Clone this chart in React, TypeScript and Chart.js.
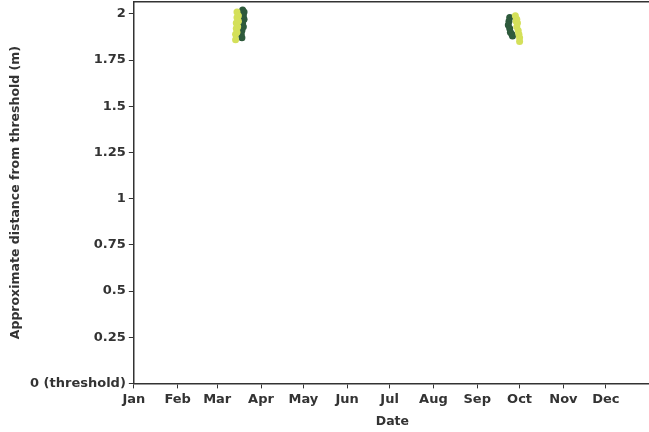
import React, { useEffect, useRef } from "react";
import { Chart, registerables } from "chart.js";

Chart.register(...registerables);

// Month start positions (day of year) and their labels
const monthStarts = [0, 31, 59, 90, 120, 151, 181, 212, 243, 273, 304, 334];
const monthNames = ["Jan", "Feb", "Mar", "Apr", "May", "Jun", "Jul", "Aug", "Sep", "Oct", "Nov", "Dec"];

// Distance ticks
const distTicks = [0, 0.25, 0.5, 0.75, 1, 1.25, 1.5, 1.75, 2];

// Series A (light) — day of year and distance (m)
const lightDays = [73, 73, 72.5, 72.5, 72, 72, 74, 74, 73.5, 73, 270, 271, 271.5, 271, 272, 272.5, 273, 273, 270.5];
const lightDist = [2.01, 1.98, 1.95, 1.92, 1.89, 1.86, 1.99, 1.96, 1.93, 1.9, 1.99, 1.97, 1.95, 1.93, 1.91, 1.89, 1.87, 1.85, 1.96];

// Series B (dark) — day of year and distance (m)
const darkDays = [77, 78, 77.5, 78, 77, 77.5, 76.5, 76, 76.5, 266, 265.5, 265, 266, 266.5, 267.5, 268];
const darkDist = [2.02, 2.01, 1.99, 1.97, 1.95, 1.93, 1.91, 1.89, 1.87, 1.98, 1.96, 1.94, 1.92, 1.9, 1.89, 1.88];

const toPoints = (xs: number[], ys: number[]) => xs.map((x, i) => ({ x, y: ys[i] }));

const topBorder = {
  id: "topBorder",
  afterDraw(chart: any) {
    const { ctx, chartArea } = chart;
    ctx.save();
    ctx.strokeStyle = "#333";
    ctx.lineWidth = 1.5;
    ctx.beginPath();
    ctx.moveTo(chartArea.left, chartArea.top);
    ctx.lineTo(chartArea.right, chartArea.top);
    ctx.stroke();
    ctx.restore();
  },
};

export default function App() {
  const ref = useRef<HTMLCanvasElement>(null);

  useEffect(() => {
    if (!ref.current) return;
    const tickFont = { family: "DejaVu Sans", size: 13, weight: "bold" as const };
    const titleFont = { family: "DejaVu Sans", size: 12.5, weight: "bold" as const };
    const chart = new Chart(ref.current, {
      type: "scatter",
      data: {
        datasets: [
          {
            label: "A",
            data: toPoints(lightDays, lightDist),
            backgroundColor: "#d4e05a",
            borderWidth: 0,
            pointRadius: 3.5,
          },
          {
            label: "B",
            data: toPoints(darkDays, darkDist),
            backgroundColor: "#2e5a3c",
            borderWidth: 0,
            pointRadius: 3.5,
          },
        ],
      },
      options: {
        responsive: false,
        animation: false,
        layout: { padding: { top: 0, right: 0, left: 8, bottom: 3 } },
        plugins: { legend: { display: false }, tooltip: { enabled: false } },
        scales: {
          x: {
            type: "linear",
            min: 0,
            max: 366,
            afterBuildTicks: (axis: any) => {
              axis.ticks = monthStarts.map((v) => ({ value: v }));
            },
            ticks: {
              color: "#333",
              font: tickFont,
              padding: 3,
              maxRotation: 0,
              autoSkip: false,
              callback: (v: any) => {
                const i = monthStarts.indexOf(Number(v));
                return i >= 0 ? monthNames[i] : "";
              },
            },
            grid: { display: true, drawOnChartArea: false, drawTicks: true, tickLength: 5, color: "#333" },
            border: { display: true, color: "#333", width: 1.5 },
            title: { display: true, text: "Date", color: "#333", font: titleFont, padding: { top: 4, bottom: 0 } },
          },
          y: {
            type: "linear",
            min: 0,
            max: 2.065,
            afterBuildTicks: (axis: any) => {
              axis.ticks = distTicks.map((v) => ({ value: v }));
            },
            ticks: {
              color: "#333",
              font: tickFont,
              padding: 3,
              callback: (v: any) => (Number(v) === 0 ? "0 (threshold)" : String(v)),
            },
            grid: { display: true, drawOnChartArea: false, drawTicks: true, tickLength: 5, color: "#333" },
            border: { display: true, color: "#333", width: 1.5 },
            title: {
              display: true,
              text: "Approximate distance from threshold (m)",
              color: "#333",
              font: titleFont,
              padding: { top: 0, bottom: 4 },
            },
          },
        },
      },
      plugins: [topBorder],
    });
    return () => chart.destroy();
  }, []);

  return (
    <div style={{ position: "fixed", left: 0, top: 0, width: 649, height: 432, overflow: "hidden", background: "#fff" }}>
      <canvas ref={ref} width={655} height={441} style={{ position: "absolute", left: 0, top: -9 }} />
    </div>
  );
}
